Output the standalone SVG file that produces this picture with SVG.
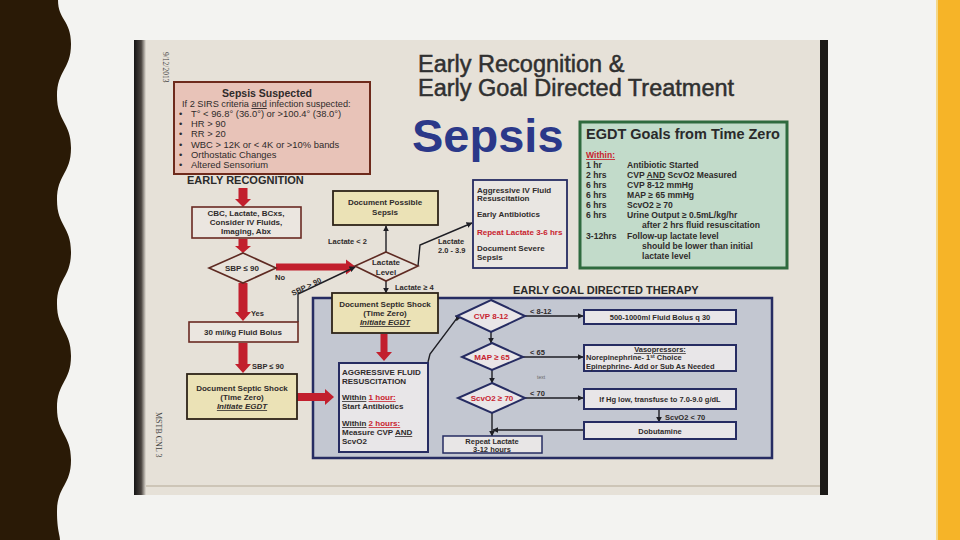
<svg xmlns="http://www.w3.org/2000/svg" width="960" height="540" viewBox="0 0 960 540">
<style>
text{font-family:"Liberation Sans",Arial,sans-serif;fill:#2f2b2b}
.b{font-weight:bold}
.t8{font-size:8px;font-weight:bold}
.t7{font-size:7.5px;font-weight:bold}
.red{fill:#c8232e}
.u{text-decoration:underline}
.ra{fill:#c21f2d}
.ln{fill:none;stroke:#1e1e24;stroke-width:1.4}
.yb{fill:#ebe2b6;stroke:#2e2418;stroke-width:1.8}
.bb{fill:#ebe6e0;stroke:#6a2a22;stroke-width:1.6}
.nb{fill:#e8e6e8;stroke:#262c62;stroke-width:2}
.dia{fill:#e9e6e8;stroke:#262c62;stroke-width:2}
.bdia{fill:#e8e3db;stroke:#5e2a22;stroke-width:1.6}
.sm{font-size:7.5px;font-weight:bold}
</style>
<defs>
<marker id="ah" viewBox="0 0 10 10" refX="9" refY="5" markerWidth="6" markerHeight="6" markerUnits="userSpaceOnUse" orient="auto">
<path d="M0,0 L10,5 L0,10 z" fill="#1e1e24"/>
</marker>
<linearGradient id="lf" x1="0" x2="1" y1="0" y2="0">
<stop offset="0" stop-color="#151515"/><stop offset="0.6" stop-color="#4a4440"/><stop offset="1" stop-color="#e4dfd6"/>
</linearGradient>
</defs>
<rect width="960" height="540" fill="#f3f3f1"/>
<path d="M0,0 L58,0 C58,20 71,20 71,44 C71,70 57,70 57,96 C57,122 71,122 71,148 C71,174 57,174 57,200 C57,226 71,226 71,252 C71,278 57,278 57,304 C57,330 71,330 71,356 C71,382 57,382 57,408 C57,434 71,434 71,460 C71,486 57,486 57,512 C57,530 60,535 60,540 L0,540 Z" fill="#2a1a06"/>
<rect x="938" y="0" width="22" height="540" fill="#f6b428"/>
<rect x="936" y="0" width="2" height="540" fill="#f4d88a"/>

<g id="photo">
<rect x="134" y="40" width="694" height="455" fill="#e6e1d8"/>
<rect x="134" y="40" width="12" height="455" fill="url(#lf)"/>
<rect x="820" y="40" width="8" height="455" fill="#1c1a18"/>
<rect x="146" y="485" width="674" height="2" fill="#a89a86" opacity="0.4"/>
<text x="0" y="0" transform="translate(163,52) rotate(90)" style="font-family:'Liberation Serif',serif;font-size:7.5px;fill:#444">9/12/2013</text>
<text x="0" y="0" transform="translate(156,412) rotate(90)" style="font-family:'Liberation Serif',serif;font-size:8px;fill:#444">MSTB CNL 3</text>
</g>

<g id="title">
<text x="418" y="72" style="font-size:23.5px;fill:#303030;stroke:#303030;stroke-width:0.5">Early Recognition &amp;</text>
<text x="418" y="96" style="font-size:23.5px;fill:#303030;stroke:#303030;stroke-width:0.5">Early Goal Directed Treatment</text>
<text x="412" y="152" class="b" style="font-size:47px;fill:#2b3889">Sepsis</text>
</g>

<g id="sepsis-suspected">
<rect x="174" y="82" width="196" height="92" fill="#e8c3b8" stroke="#6e2a1c" stroke-width="2"/>
<text x="267" y="97" text-anchor="middle" class="b" style="font-size:10.5px">Sepsis Suspected</text>
<text x="182" y="107" style="font-size:9.2px">If 2 SIRS criteria <tspan class="u">and</tspan> infection suspected:</text>
<g style="font-size:9.4px">
<text x="179" y="117">•</text><text x="191" y="117">T° &lt; 96.8° (36.0°) or &gt;100.4° (38.0°)</text>
<text x="179" y="127">•</text><text x="191" y="127">HR &gt; 90</text>
<text x="179" y="137">•</text><text x="191" y="137">RR &gt; 20</text>
<text x="179" y="148">•</text><text x="191" y="148">WBC &gt; 12K or &lt; 4K or &gt;10% bands</text>
<text x="179" y="158">•</text><text x="191" y="158">Orthostatic Changes</text>
<text x="179" y="168">•</text><text x="191" y="168">Altered Sensorium</text>
</g>
</g>

<g id="egdt-goals">
<rect x="580" y="122" width="207" height="146" fill="#c2dbca" stroke="#2e6a3e" stroke-width="3"/>
<text x="586" y="139" class="b" style="font-size:14.5px;fill:#2a2a2a">EGDT Goals from Time Zero</text>
<g style="font-size:8.6px;font-weight:bold;fill:#333">
<text x="586" y="158" class="red u">Within:</text>
<text x="586" y="168">1 hr</text><text x="627" y="168">Antibiotic Started</text>
<text x="586" y="178">2 hrs</text><text x="627" y="178">CVP <tspan class="u">AND</tspan> ScvO2 Measured</text>
<text x="586" y="188">6 hrs</text><text x="627" y="188">CVP 8-12 mmHg</text>
<text x="586" y="198">6 hrs</text><text x="627" y="198">MAP ≥ 65 mmHg</text>
<text x="586" y="208">6 hrs</text><text x="627" y="208">ScvO2 ≥ 70</text>
<text x="586" y="218">6 hrs</text><text x="627" y="218">Urine Output ≥ 0.5mL/kg/hr</text>
<text x="642" y="228">after 2 hrs fluid resuscitation</text>
<text x="586" y="239">3-12hrs</text><text x="627" y="239">Follow-up lactate level</text>
<text x="642" y="249">should be lower than initial</text>
<text x="642" y="259">lactate level</text>
</g>
</g>

<text x="187" y="184" class="b" style="font-size:11px;fill:#2a2a2a">EARLY RECOGNITION</text>

<g id="egdt-region">
<rect x="313" y="298" width="459" height="160" fill="#c3c7d1" stroke="#262c62" stroke-width="2.5"/>
<text x="513" y="294" class="b" style="font-size:11px;fill:#2a2a2a">EARLY GOAL DIRECTED THERAPY</text>
</g>

<g id="connectors">
<polygon class="ra" points="238.5,188 247.5,188 247.5,199 251,199 243,207 235,199 238.5,199"/>
<polygon class="ra" points="238.5,239 247.5,239 247.5,246 251,246 243,253 235,246 238.5,246"/>
<polygon class="ra" points="238.5,283 247.5,283 247.5,312 251,312 243,321 235,312 238.5,312"/>
<polygon class="ra" points="238.5,343 247.5,343 247.5,364 251,364 243,373 235,364 238.5,364"/>
<polygon class="ra" points="276,263.5 346,263.5 346,259.5 356,267 346,274.5 346,270.5 276,270.5"/>
<polygon class="ra" points="297,393 325,393 325,389 334,397 325,405 325,401 297,401"/>
<polygon class="ra" points="380.5,334 387.5,334 387.5,352 392,352 384,361 376,352 380.5,352"/>
<path class="ln" d="M386,252 V226" marker-end="url(#ah)"/>
<path class="ln" d="M386,281 V293" marker-end="url(#ah)"/>
<path class="ln" d="M418,266 L420,245 L472,223" marker-end="url(#ah)"/>
<path class="ln" d="M298,322 V294 L355,267" marker-end="url(#ah)"/>
<path class="ln" d="M428,362 L430,354 L457,318 L461,317" marker-end="url(#ah)"/>
<path class="ln" d="M491,332 V343" marker-end="url(#ah)"/>
<path class="ln" d="M492,370 V383" marker-end="url(#ah)"/>
<path class="ln" d="M492,413 V436" marker-end="url(#ah)"/>
<path class="ln" d="M525,316 H583" marker-end="url(#ah)"/>
<path class="ln" d="M523,357 H583" marker-end="url(#ah)"/>
<path class="ln" d="M525,398 H583" marker-end="url(#ah)"/>
<path class="ln" d="M659,409 V422" marker-end="url(#ah)"/>
<path class="ln" d="M584,430 H493" marker-end="url(#ah)"/>
<g class="sm">
<text x="275" y="280">No</text>
<text x="251" y="316">Yes</text>
<text x="252" y="369">SBP ≤ 90</text>
<text x="0" y="0" transform="translate(293,296) rotate(-26)">SBP &gt; 90</text>
<text x="328" y="244">Lactate &lt; 2</text>
<text x="438" y="244">Lactate</text>
<text x="438" y="253">2.0 - 3.9</text>
<text x="395" y="290">Lactate ≥ 4</text>
<text x="530" y="314">&lt; 8-12</text>
<text x="530" y="355">&lt; 65</text>
<text x="530" y="396">&lt; 70</text>
<text x="665" y="420">ScvO2 &lt; 70</text>
</g>
<text x="537" y="379" style="font-size:5px;fill:#666">text</text>
</g>

<g id="cbc">
<rect class="bb" x="192" y="207" width="109" height="31"/>
<text x="246" y="216" text-anchor="middle" class="t8">CBC, Lactate, BCxs,</text>
<text x="246" y="225" text-anchor="middle" class="t8">Consider IV Fluids,</text>
<text x="246" y="234" text-anchor="middle" class="t8">Imaging, Abx</text>
</g>
<g id="sbp-diamond">
<polygon class="bdia" points="243,253 276,268 243,283 209,268"/>
<text x="242" y="271" text-anchor="middle" class="t8">SBP ≤ 90</text>
</g>
<g id="lactate-level">
<polygon class="bdia" points="386,252 418,266 386,281 355,266"/>
<text x="386" y="265" text-anchor="middle" class="t8">Lactate</text>
<text x="386" y="275" text-anchor="middle" class="t8">Level</text>
</g>
<g id="possible-sepsis">
<rect class="yb" x="333" y="191" width="105" height="34"/>
<text x="385" y="205" text-anchor="middle" class="t8">Document Possible</text>
<text x="385" y="215" text-anchor="middle" class="t8">Sepsis</text>
</g>
<g id="severe-sepsis">
<rect x="473" y="180" width="94" height="88" fill="#e9e6e2" stroke="#262c62" stroke-width="1.8"/>
<text x="477" y="193" class="t8">Aggressive IV Fluid</text>
<text x="477" y="201" class="t8">Resuscitation</text>
<text x="477" y="217" class="t8">Early Antibiotics</text>
<text x="477" y="235" class="t8 red">Repeat Lactate 3-6 hrs</text>
<text x="477" y="251" class="t8">Document Severe</text>
<text x="477" y="260" class="t8">Sepsis</text>
</g>
<g id="fluid-bolus">
<rect class="bb" x="189" y="322" width="109" height="20"/>
<text x="243" y="335" text-anchor="middle" class="t8">30 ml/kg Fluid Bolus</text>
</g>
<g id="septic-shock-left">
<rect class="yb" x="187" y="374" width="110" height="45"/>
<text x="242" y="391" text-anchor="middle" class="t8">Document Septic Shock</text>
<text x="242" y="400" text-anchor="middle" class="t8">(Time Zero)</text>
<text x="242" y="409" text-anchor="middle" class="t8 u" style="font-style:italic">Initiate EGDT</text>
</g>
<g id="septic-shock-top">
<rect class="yb" x="332" y="293" width="106" height="40"/>
<text x="385" y="307" text-anchor="middle" class="t8">Document Septic Shock</text>
<text x="385" y="316" text-anchor="middle" class="t8">(Time Zero)</text>
<text x="385" y="325" text-anchor="middle" class="t8 u" style="font-style:italic">Initiate EGDT</text>
</g>
<g id="aggressive-fluid">
<rect class="nb" x="339" y="363" width="89" height="89"/>
<text x="342" y="375" class="t8">AGGRESSIVE FLUID</text>
<text x="342" y="384" class="t8">RESUSCITATION</text>
<text x="342" y="400" class="t8"><tspan class="u">Within</tspan> <tspan class="red u">1 hour:</tspan></text>
<text x="342" y="409" class="t8">Start Antibiotics</text>
<text x="342" y="426" class="t8"><tspan class="u">Within</tspan> <tspan class="red u">2 hours:</tspan></text>
<text x="342" y="435" class="t8">Measure CVP <tspan class="u">AND</tspan></text>
<text x="342" y="444" class="t8">ScvO2</text>
</g>
<g id="cvp">
<polygon class="dia" points="491,300 525,316 491,332 457,316"/>
<text x="491" y="319" text-anchor="middle" class="t8 red">CVP 8-12</text>
</g>
<g id="map">
<polygon class="dia" points="492,343 523,357 492,370 462,357"/>
<text x="492" y="360" text-anchor="middle" class="t8 red">MAP ≥ 65</text>
</g>
<g id="scvo2">
<polygon class="dia" points="492,383 525,398 492,413 458,398"/>
<text x="492" y="401" text-anchor="middle" class="t8 red">ScvO2 ≥ 70</text>
</g>
<g id="repeat-lactate">
<rect x="443" y="436" width="99" height="17" fill="#e8e6e6" stroke="#262c62" stroke-width="1.5"/>
<text x="492" y="443.5" text-anchor="middle" class="t7">Repeat Lactate</text>
<text x="492" y="451.5" text-anchor="middle" class="t7">3-12 hours</text>
</g>
<g id="bolus-q30">
<rect class="nb" x="584" y="310" width="152" height="14"/>
<text x="660" y="320" text-anchor="middle" class="t7">500-1000ml Fluid Bolus q 30</text>
</g>
<g id="vasopressors">
<rect class="nb" x="584" y="345" width="152" height="26"/>
<text x="660" y="352" text-anchor="middle" class="t7 u">Vasopressors:</text>
<text x="586" y="360" class="t7">Norepinephrine- 1<tspan dy="-2.5" style="font-size:5px">st</tspan><tspan dy="2.5"> Choice</tspan></text>
<text x="586" y="368.5" class="t7">Epinephrine- Add or Sub As Needed</text>
</g>
<g id="transfuse">
<rect class="nb" x="584" y="389" width="152" height="20"/>
<text x="660" y="402" text-anchor="middle" class="t7">If Hg low, transfuse to 7.0-9.0 g/dL</text>
</g>
<g id="dobutamine">
<rect class="nb" x="584" y="422" width="152" height="17"/>
<text x="660" y="433.5" text-anchor="middle" class="t7">Dobutamine</text>
</g>
</svg>
